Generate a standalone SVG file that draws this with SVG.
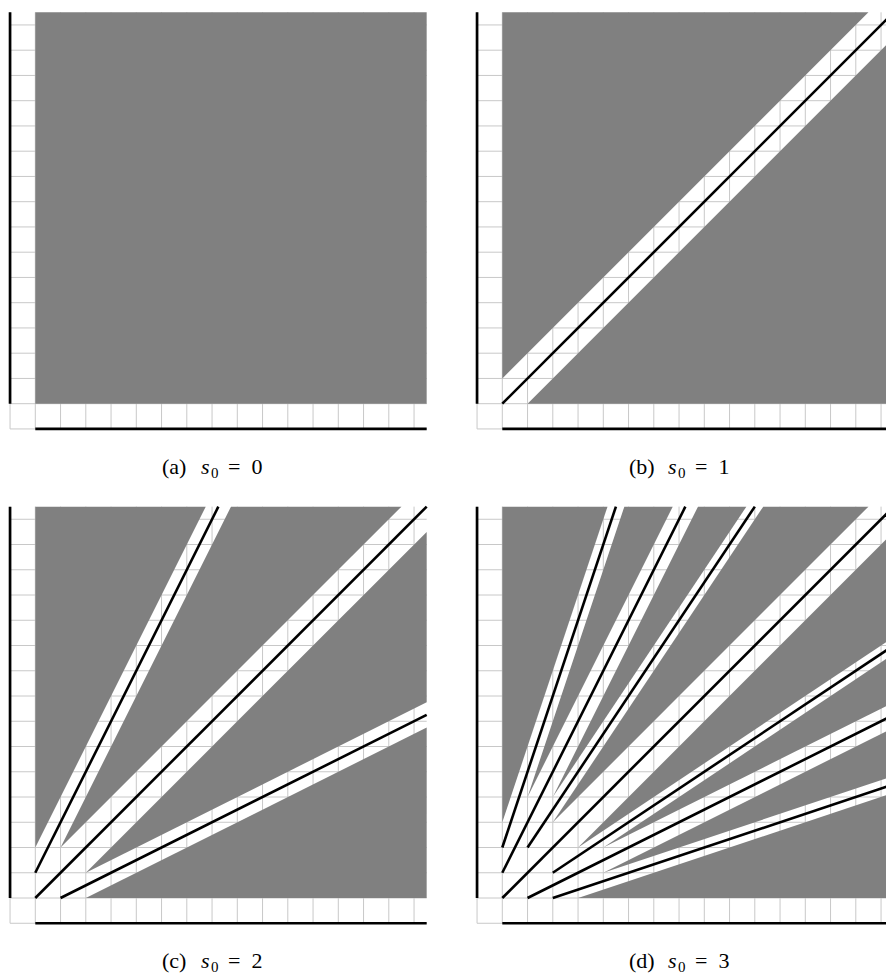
<svg xmlns="http://www.w3.org/2000/svg" xmlns:xlink="http://www.w3.org/1999/xlink" width="886" height="973" viewBox="0 0 886 973">
<style>
.grid{fill:none;stroke:#c8c8c8;stroke-width:1;vector-effect:non-scaling-stroke}
.g{fill:#808080;stroke:none}
.ln{fill:none;stroke:#000;stroke-width:2.6;vector-effect:non-scaling-stroke}
.ax{fill:none;stroke:#000;stroke-width:2.7;vector-effect:non-scaling-stroke}
.cap{font-family:"Liberation Serif","Times New Roman",serif;font-size:22px;fill:#000}
.it{font-style:italic}
.sub{font-size:15px}
</style>
<defs>
<path id="grid" class="grid" d="M-1,-1V15.5M0,-1V15.5M1,-1V15.5M2,-1V15.5M3,-1V15.5M4,-1V15.5M5,-1V15.5M6,-1V15.5M7,-1V15.5M8,-1V15.5M9,-1V15.5M10,-1V15.5M11,-1V15.5M12,-1V15.5M13,-1V15.5M14,-1V15.5M15,-1V15.5M-1,-1H15.5M-1,0H15.5M-1,1H15.5M-1,2H15.5M-1,3H15.5M-1,4H15.5M-1,5H15.5M-1,6H15.5M-1,7H15.5M-1,8H15.5M-1,9H15.5M-1,10H15.5M-1,11H15.5M-1,12H15.5M-1,13H15.5M-1,14H15.5M-1,15H15.5"/>
<path id="axes" class="ax" d="M-1,0V15.5M0,-1H15.5"/>
</defs>
<rect width="886" height="973" fill="#fff"/>

<g id="panel-a" transform="translate(35.3,403.7) scale(25.25,-25.25)">
<use href="#grid" xlink:href="#grid"/>
<polygon class="g" points="0,0 15.5,0 15.5,15.5 0,15.5"/>
<use href="#axes" xlink:href="#axes"/>
</g>

<g id="panel-b" transform="translate(502.3,403.7) scale(25.25,-25.25)">
<use href="#grid" xlink:href="#grid"/>
<polygon class="g" points="0,1 0,15.5 14.5,15.5"/>
<polygon class="g" points="1,0 15.5,0 15.5,14.5"/>
<use href="#axes" xlink:href="#axes"/>
<g id="lines-b">
<path class="ln" d="M0,0L15.5,15.5"/>
</g>
</g>

<g id="panel-c" transform="translate(35.3,898) scale(25.25,-25.25)">
<use href="#grid" xlink:href="#grid"/>
<polygon class="g" points="0,2 0,15.5 6.75,15.5"/>
<polygon class="g" points="1,2 7.75,15.5 14.5,15.5"/>
<polygon class="g" points="2,1 15.5,14.5 15.5,7.75"/>
<polygon class="g" points="2,0 15.5,6.75 15.5,0"/>
<use href="#axes" xlink:href="#axes"/>
<g id="lines-c">
<path class="ln" d="M0,1L7.25,15.5"/>
<path class="ln" d="M0,0L15.5,15.5"/>
<path class="ln" d="M1,0L15.5,7.25"/>
</g>
</g>

<g id="panel-d" transform="translate(502.3,898) scale(25.25,-25.25)">
<use href="#grid" xlink:href="#grid"/>
<polygon class="g" points="0,3 0,15.5 4.1667,15.5"/>
<polygon class="g" points="1,4 4.8333,15.5 6.75,15.5"/>
<polygon class="g" points="2,4 7.75,15.5 9.6667,15.5"/>
<polygon class="g" points="2,3 10.3333,15.5 14.5,15.5"/>
<polygon class="g" points="3,2 15.5,14.5 15.5,10.3333"/>
<polygon class="g" points="4,2 15.5,9.6667 15.5,7.75"/>
<polygon class="g" points="4,1 15.5,6.75 15.5,4.8333"/>
<polygon class="g" points="3,0 15.5,4.1667 15.5,0"/>
<use href="#axes" xlink:href="#axes"/>
<g id="lines-d">
<path class="ln" d="M0,2L4.5,15.5"/>
<path class="ln" d="M0,1L7.25,15.5"/>
<path class="ln" d="M1,2L10,15.5"/>
<path class="ln" d="M0,0L15.5,15.5"/>
<path class="ln" d="M2,1L15.5,10"/>
<path class="ln" d="M1,0L15.5,7.25"/>
<path class="ln" d="M2,0L15.5,4.5"/>
</g>
</g>

<g id="captions">
<text class="cap" y="474"><tspan x="162">(a)</tspan><tspan x="201" class="it">s</tspan><tspan x="211" dy="3.5" class="sub">0</tspan><tspan x="228" dy="-3.5">=</tspan><tspan x="251.5">0</tspan></text>
<text class="cap" y="474"><tspan x="629">(b)</tspan><tspan x="668" class="it">s</tspan><tspan x="678" dy="3.5" class="sub">0</tspan><tspan x="695" dy="-3.5">=</tspan><tspan x="718.5">1</tspan></text>
<text class="cap" y="968"><tspan x="162">(c)</tspan><tspan x="201" class="it">s</tspan><tspan x="211" dy="3.5" class="sub">0</tspan><tspan x="228" dy="-3.5">=</tspan><tspan x="251.5">2</tspan></text>
<text class="cap" y="968"><tspan x="629">(d)</tspan><tspan x="668" class="it">s</tspan><tspan x="678" dy="3.5" class="sub">0</tspan><tspan x="695" dy="-3.5">=</tspan><tspan x="718.5">3</tspan></text>
</g>
</svg>
